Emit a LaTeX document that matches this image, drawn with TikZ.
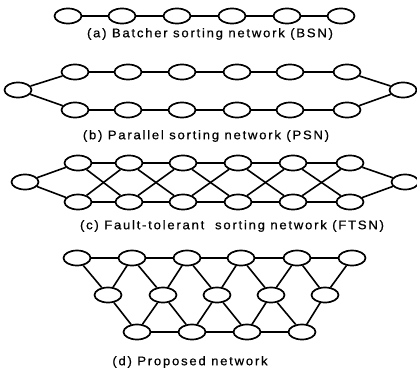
\documentclass[tikz,border=0pt]{standalone}
\usepackage{fontspec}
\setmainfont{Liberation Sans}[LetterSpace=14,FakeBold=0.6,FakeStretch=1.05]
\usetikzlibrary{shapes.geometric}

\begin{document}
\begin{tikzpicture}[x=1pt,y=-1pt,
  nd/.style={ellipse,draw,line width=1.7pt,minimum width=27pt,minimum height=15pt,inner sep=0pt},
  ln/.style={line width=1.6pt},
  captxt/.style={font=\fontsize{12.5}{14}\selectfont,inner sep=0pt}]
\useasboundingbox (0,0) rectangle (417,372);

% (a) single chain
\foreach \x [count=\i] in {68,122,177,232,287,341}
  \node[nd] (a\i) at (\x,16) {};
\foreach \i in {1,...,5}{\pgfmathtruncatemacro\j{\i+1}\draw[ln] (a\i) -- (a\j);}
\node[captxt] (capa) at (210,34) {(a) Batcher sorting network (BSN)};

% (b) two parallel chains
\node[nd] (bL) at (18,90) {};
\node[nd] (bR) at (403,90) {};
\foreach \x [count=\i] in {75,128,182,237,290,347}{
  \node[nd] (bt\i) at (\x,72) {};
  \node[nd] (bb\i) at (\x,110) {};}
\foreach \i in {1,...,5}{\pgfmathtruncatemacro\j{\i+1}
  \draw[ln] (bt\i) -- (bt\j);
  \draw[ln] (bb\i) -- (bb\j);}
\draw[ln] (bL) -- (bt1) (bL) -- (bb1) (bR) -- (bt6) (bR) -- (bb6);
\node[captxt] (capb) at (206,136) {(b) Parallel sorting network (PSN)};

% (c) two chains with cross links
\node[nd] (cL) at (25,182) {};
\node[nd] (cR) at (405,182) {};
\foreach \x [count=\i] in {78,129,183,238,293,350}{
  \node[nd] (ct\i) at (\x,163) {};
  \node[nd] (cb\i) at (\x,202) {};}
\foreach \i in {1,...,5}{\pgfmathtruncatemacro\j{\i+1}
  \draw[ln] (ct\i) -- (ct\j);
  \draw[ln] (cb\i) -- (cb\j);
  \draw[ln] (ct\i) -- (cb\j);
  \draw[ln] (cb\i) -- (ct\j);}
\draw[ln] (cL) -- (ct1) (cL) -- (cb1) (cR) -- (ct6) (cR) -- (cb6);
\node[captxt] (capc) at (232,226) {(c) Fault-tolerant\ \ sorting network (FTSN)};

% (d) triangular mesh
\foreach \x [count=\i] in {77,132,187,241,297,352}
  \node[nd] (dt\i) at (\x,258) {};
\foreach \x [count=\i] in {108,163,217,271,325}
  \node[nd] (dm\i) at (\x,295) {};
\foreach \x [count=\i] in {137,192,247,302}
  \node[nd] (db\i) at (\x,332) {};
\foreach \i in {1,...,5}{\pgfmathtruncatemacro\j{\i+1}
  \draw[ln] (dt\i) -- (dt\j);
  \draw[ln] (dm\i) -- (dt\i);
  \draw[ln] (dm\i) -- (dt\j);}
\foreach \i in {1,...,3}{\pgfmathtruncatemacro\j{\i+1}
  \draw[ln] (db\i) -- (db\j);}
\foreach \i in {1,...,4}{\pgfmathtruncatemacro\j{\i+1}
  \draw[ln] (dm\i) -- (db\i);
  \draw[ln] (dm\j) -- (db\i);}
\node[captxt] (capd) at (190,362) {(d) Proposed network};
\end{tikzpicture}
\end{document}
